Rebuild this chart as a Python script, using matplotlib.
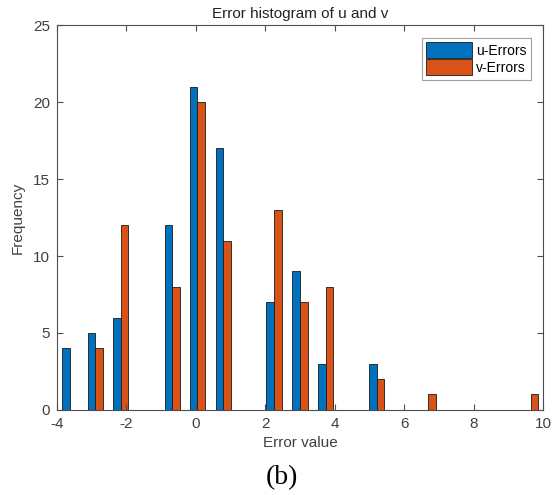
import matplotlib.pyplot as plt

plt.rcParams['font.family'] = ['Liberation Sans', 'DejaVu Sans']
plt.rcParams['axes.unicode_minus'] = False

# bin centres of the histogram (only bins with counts)
bin_centers = [-3.63, -2.89, -2.16, -0.68, 0.04, 0.79, 2.25, 3.0, 3.74, 5.21, 6.69, 9.64]
u_errors = [4, 5, 6, 12, 21, 17, 7, 9, 3, 3, 0, 0]
v_errors = [0, 4, 12, 8, 20, 11, 13, 7, 8, 2, 1, 1]

x_ticks = [-4, -2, 0, 2, 4, 6, 8, 10]
y_ticks = [0, 5, 10, 15, 20, 25]

blue = '#0072BD'
orange = '#D95319'
axcol = '#4d4d4d'

fig = plt.figure(figsize=(5.53, 4.95), dpi=100)
ax = fig.add_axes([0.103, 0.172, 0.879, 0.777])

w = 0.22
ax.bar([c - w / 2 for c in bin_centers], u_errors, width=w, color=blue,
       edgecolor='#1a1a1a', linewidth=0.6, label='u-Errors')
ax.bar([c + w / 2 for c in bin_centers], v_errors, width=w, color=orange,
       edgecolor='#1a1a1a', linewidth=0.6, label='v-Errors')

ax.set_xlim(-4, 10)
ax.set_ylim(0, 25)
ax.set_xticks(x_ticks)
ax.set_yticks(y_ticks)
ax.tick_params(direction='in', top=True, right=True, length=4,
               colors=axcol, labelsize=11, labelcolor='#404040', pad=5)
for s in ax.spines.values():
    s.set_color(axcol)
    s.set_linewidth(0.8)

ax.set_title('Error histogram of u and v', fontsize=11, color='#222222', pad=5)
ax.set_xlabel('Error value', fontsize=11, color='#404040', labelpad=4)
ax.set_ylabel('Frequency', fontsize=11, color='#404040', labelpad=6)

leg = ax.legend(loc='upper right', fontsize=10, handlelength=3.3, handleheight=1.4,
                handletextpad=0.3, borderpad=0.3, labelspacing=0.1,
                borderaxespad=0.9, fancybox=False, framealpha=1,
                edgecolor='#a0a0a0')
leg.get_frame().set_linewidth(0.8)

fig.text(0.51, 0.036, '(b)', fontsize=20, family='Liberation Serif',
         ha='center', va='center', color='black')

fig.savefig('out.png')
